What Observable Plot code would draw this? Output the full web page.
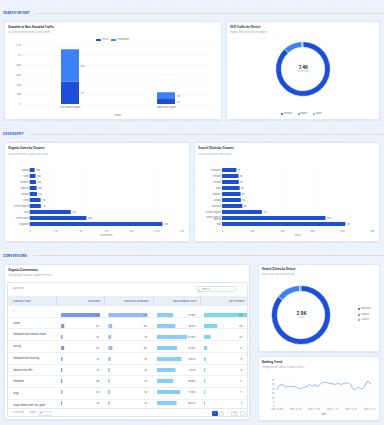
<!DOCTYPE html>
<html>
<head>
<meta charset="utf-8">
<script src="https://cdn.jsdelivr.net/npm/d3@7"></script>
<script src="https://cdn.jsdelivr.net/npm/@observablehq/plot@0.6"></script>
<style>
  html, body { margin: 0; padding: 0; }
  body {
    width: 384px; height: 425px; overflow: hidden; position: relative;
    background-color: #eef4fd;
    background-image: radial-gradient(circle, #dfe8f6 0.35px, transparent 0.5px);
    background-size: 2.6px 2.6px;
    font-family: Inter, "Noto Sans", sans-serif;
  }
  .card { position: absolute; background: #fff; border: 0.3px solid #e2e8f2; border-radius: 2.5px;
          box-sizing: border-box; box-shadow: 0 0.3px 1.2px rgba(40, 70, 130, 0.07); }
  .t { position: absolute; white-space: nowrap; line-height: 1; transform: translateY(-50%); }
  .tr { transform: translate(-100%, -50%); }
  .section { font-size: 2.8px; font-weight: 800; color: #2f55d4; letter-spacing: 0.3px; }
  .rule { position: absolute; height: 0.7px; background: #f1d9cc; }
  .title { font-size: 2.9px; font-weight: 700; color: #1e293b; }
  .sub { font-size: 2.05px; color: #9aa4b4; }
  .leg { font-size: 2.1px; color: #6b7280; }
  .dot { position: absolute; width: 2px; height: 2px; border-radius: 50%; transform: translate(-50%, -50%); }
  .th { font-size: 2.05px; font-weight: 600; color: #56627a; letter-spacing: 0.22px; }
  .td { font-size: 2.2px; color: #374151; }
  .small { font-size: 2.1px; color: #8b95a6; }
  .btn { position: absolute; box-sizing: border-box; border: 0.3px solid #dfe5ee; border-radius: 1px;
         font-size: 2.1px; color: #4b5563; display: flex; align-items: center; justify-content: center; background: #fff; }
</style>
</head>
<body>
<script>
// ---------- data ----------
const intentLabels = ["non-branded-organic", "brand-intent-organic"];
const intentClicks = [451, 102];
const intentImpressions = [663, 136];
const intentMetrics = ["Clicks", "Impressions"];
const intentColors = ["#1d4ed8", "#3b82f6"];
const intentTicks = [0, 200, 400, 600, 800, 1000, 1200];

const devices = ["desktop", "mobile", "tablet"];
const deviceColors = ["#1d4ed8", "#3b82f6", "#60a5fa"];
const deviceUsers = [6530, 810, 60];
const deviceClicks = [2490, 385, 25];

const userCountries = ["Canada", "Spain", "Germany", "Malaysia", "Vietnam", "China", "United Kingdom", "India", "United States", "Singapore"];
const userCounts = [490, 580, 620, 690, 720, 1080, 1100, 4060, 5600, 13100];
const userTicks = [0, 2500, 5000, 7500, 10000, 12500, 15000];

const clickCountries = ["Philippines", "Viet Nam", "Australia", "Spain", "Germany", "Canada", "Indonesia", "United Kingdom", "United States of America", "India"];
const clickCounts = [48, 55, 56, 59, 62, 63, 68, 133, 345, 411];
const clickTicks = [0, 100, 200, 300, 400, 500];

const pages = ["/", "/home", "/templates/hotel-website-expert-...", "/pricing", "/templates/hotel-booking", "/features/seo-offer", "/templates", "/blog", "/blog/ultimate-hotel-seo-guide"];
const sessions = [2140, 181, 82, 176, 78, 70, 68, 64, 58];
const engagedSessions = [1061, 103, 76, 109, 59, 40, 34, 46, 35];
const engagementRates = [49.58, 56.91, 92.68, 61.93, 75.64, 57.14, 50.00, 71.88, 60.34];
const keyEvents = [418, 126, 63, 31, 15, 13, 12, 11, 9];
const tableColumns = ["LANDING PAGE", "SESSIONS", "ENGAGED SESSIONS", "ENGAGEMENT RATE", "KEY EVENTS"];

const trendStart = "2025-10-06";
const trendPositions = [19.7, 22.5, 24.3, 25.1, 25.4, 24.3, 23.1, 22.4, 23.2, 23.5, 23.0, 22.8, 23.1, 23.2,
  22.6, 21.9, 21.6, 20.8, 20.5, 21.3, 21.8, 22.4, 22.9, 23.5, 24.6, 25.4, 24.1, 23.2, 24.6, 25.4, 23.5,
  23.9, 24.3, 25.8, 27.3, 27.5, 27.6, 27.7, 27.4, 27.0, 26.8, 26.5, 26.2, 25.9, 25.4, 26.1, 27.0, 26.6,
  25.4, 25.9, 26.2, 26.6, 27.0, 27.1, 27.0, 26.8, 24.5, 22.1, 19.4, 19.9, 20.5, 22.4, 21.8, 21.3, 20.6,
  20.5, 22.1, 25.6, 28.5, 28.7, 28.2, 26.2];
const trendTicks = ["2025-10-06", "2025-10-20", "2025-11-03", "2025-11-17", "2025-12-01", "2025-12-15"];
const positionTicks = [0, 5, 10, 15, 20, 25, 30];

// ---------- helpers ----------
const FONT = "Inter, 'Noto Sans', sans-serif";
function fmtK(v) {
  if (Math.abs(v) < 1000) return String(v);
  return (v / 1000).toFixed(1).replace(/\.0$/, "") + "K";
}
function add(tag, cls, css, text, parent = document.body) {
  const e = document.createElement(tag);
  if (cls) e.className = cls;
  Object.assign(e.style, css || {});
  if (text != null) e.textContent = text;
  parent.appendChild(e);
  return e;
}
function txt(x, y, str, cls, parent, right) {
  return add("div", "t " + cls + (right ? " tr" : ""), {left: x + "px", top: y + "px"}, str, parent);
}
function card(x0, y0, x1, y1) {
  return add("div", "card", {left: x0 + "px", top: y0 + "px", width: (x1 - x0) + "px", height: (y1 - y0) + "px"});
}
function mount(svg, x, y, parent = document.body) {
  svg.style.position = "absolute";
  svg.style.left = x + "px";
  svg.style.top = y + "px";
  parent.appendChild(svg);
  return svg;
}
const baseStyle = {background: "none", fontFamily: FONT, fontSize: "2.3px", color: "#6b7280", overflow: "visible"};

function section(label, y, lineFrom) {
  txt(3, y, label, "section");
  add("div", "rule", {left: lineFrom + "px", top: (y - 0.35) + "px", width: (384 - lineFrom) + "px"});
}

// Donut drawn as a custom Plot mark from d3.pie / d3.arc
function donutMark(values, colors, w, h, rOuter, rInner) {
  return () => {
    const arcs = d3.pie().sort(null).value(d => d)(values);
    const arc = d3.arc().innerRadius(rInner).outerRadius(rOuter);
    const g = d3.create("svg:g").attr("transform", `translate(${w / 2},${h / 2})`);
    g.selectAll("path").data(arcs).join("path")
      .attr("d", arc)
      .attr("fill", (d, i) => colors[i])
      .attr("stroke", "#fff")
      .attr("stroke-width", 0.5);
    return g.node();
  };
}
function donutPlot(values, w, h, rOuter, rInner, centerLabel) {
  const total = d3.sum(values);
  return Plot.plot({
    width: w, height: h, margin: 0,
    style: baseStyle,
    marks: [
      donutMark(values, deviceColors, w, h, rOuter, rInner),
      Plot.text([total], {frameAnchor: "middle", text: d => fmtK(d), dy: -1.5, fontSize: 4.3, fontWeight: 700, fill: "#1e293b"}),
      Plot.text([centerLabel], {frameAnchor: "middle", text: d => d, dy: 2.2, fontSize: 1.9, fill: "#9aa4b4"})
    ]
  });
}

// ---------- SEARCH INTENT ----------
section("SEARCH INTENT", 13.3, 35);

card(4, 21, 222, 120);
txt(8.3, 26.7, "Branded vs Non-Branded Traffic", "title");
txt(8.3, 32, "Clicks and impressions split by query intent", "sub");
// legend
intentMetrics.forEach((m, i) => {
  const x = [95.7, 110.7][i];
  add("div", null, {position: "absolute", left: x + "px", top: "38.7px", width: "5.3px", height: "2.6px", background: intentColors[i], borderRadius: "0.4px"});
  txt(x + 6.4, 40, m, "leg");
});

const intentRows = intentLabels.flatMap((q, i) => [
  {intent: q, metric: intentMetrics[0], value: intentClicks[i]},
  {intent: q, metric: intentMetrics[1], value: intentImpressions[i]}
]);
mount(Plot.plot({
  width: 218, height: 76, marginLeft: 18, marginRight: 9, marginTop: 3, marginBottom: 14,
  style: baseStyle,
  x: {domain: intentLabels, paddingInner: 0.817, paddingOuter: 0.4},
  y: {domain: [0, 1200]},
  color: {domain: intentMetrics, range: intentColors},
  marks: [
    Plot.gridY(intentTicks, {stroke: "#e8ecf2", strokeOpacity: 1, strokeWidth: 0.3}),
    Plot.barY(intentRows, Plot.stackY({x: "intent", y: "value", fill: "metric", rx: 0.5})),
    Plot.text(intentRows, Plot.stackY({x: "intent", y: "value", text: d => String(d.value), textAnchor: "start", dx: 10.2, fill: "#6b7280", fontSize: 2})),
    Plot.axisY({ticks: intentTicks, tickSize: 0, tickPadding: 1.5, tickFormat: fmtK, label: null}),
    Plot.axisX({tickSize: 0, tickPadding: 2.2, label: null, fontSize: 2}),
    Plot.text(["Query"], {frameAnchor: "bottom", text: d => d, dy: 11, fill: "#6b7280"})
  ]
}), 4, 42);

card(226, 21, 380, 120);
txt(230, 26.7, "SEO Traffic by Device", "title");
txt(230, 32, "Organic users split by device category", "sub");
mount(donutPlot(deviceUsers, 154, 68, 27.3, 21.8, "Active users"), 226, 35.2);
devices.forEach((d, i) => {
  const x = [282, 298.7, 314][i];
  add("div", "dot", {left: x + "px", top: "114.3px", background: deviceColors[i]});
  txt(x + 1.8, 114.3, d, "leg");
});

// ---------- GEOGRAPHY ----------
section("GEOGRAPHY", 134, 30);

function countryPlot(names, values, ticks, domainMax, ml, mr, axisTitle) {
  const rows = names.map((c, i) => ({country: c, value: values[i]}));
  return Plot.plot({
    width: 186, height: 80, marginLeft: ml, marginRight: mr, marginTop: 5.2, marginBottom: 11.7,
    style: baseStyle,
    x: {domain: [0, domainMax]},
    y: {domain: names, padding: 0.33},
    marks: [
      Plot.gridX(ticks, {stroke: "#edf0f5", strokeOpacity: 1, strokeWidth: 0.3}),
      Plot.barX(rows, {x: "value", y: "country", fill: "#1d4ed8", rx: 0.4}),
      Plot.text(rows, {x: "value", y: "country", text: d => fmtK(d.value), textAnchor: "start", dx: 0.9, fill: "#4b5563", fontSize: 2}),
      Plot.axisX({ticks, tickSize: 0, tickPadding: 1.4, tickFormat: fmtK, label: null, fontSize: 2}),
      Plot.axisY({tickSize: 0, tickPadding: 1.5, label: null, fontSize: 2,
        tickFormat: d => d === "United States of America" ? "United States of\nAmerica" : d}),
      Plot.text([axisTitle], {frameAnchor: "bottom", text: d => d, dy: 7.4, fill: "#6b7280", fontSize: 2.1})
    ]
  });
}

card(4, 142.3, 190, 241.7);
txt(8.3, 148.3, "Organic Users by Country", "title");
txt(8.3, 153.7, "Countries ranked by organic user volume", "sub");
mount(countryPlot(userCountries, userCounts, userTicks, 15000, 25.7, 8.3, "Active users"), 4, 160);

card(194, 142.3, 380, 241.7);
txt(198.3, 148.3, "Search Clicks by Country", "title");
txt(198.3, 153.7, "Countries ranked by search clicks", "sub");
mount(countryPlot(clickCountries, clickCounts, clickTicks, 500, 28, 8, "Clicks"), 194, 160);

// ---------- CONVERSIONS ----------
section("CONVERSIONS", 255.7, 33);

card(4, 264, 250, 420);
txt(8.3, 270, "Organic Conversions", "title");
txt(8.3, 275, "Landing pages ranked by organic key events", "sub");

const box = add("div", null, {position: "absolute", left: "7.3px", top: "281.7px", width: "241px", height: "135.6px",
  border: "0.3px solid #e3e8f1", borderRadius: "2px", overflow: "hidden", boxSizing: "border-box", background: "#fff"});
txt(4.4, 6.6, "468 results", "small", box);
const search = add("div", null, {position: "absolute", left: "187.7px", top: "3.3px", width: "40px", height: "6.5px",
  border: "0.3px solid #dde3ed", borderRadius: "1.5px", boxSizing: "border-box", background: "#fbfcfe"}, null, box);
search.innerHTML = '<svg width="3" height="3" viewBox="0 0 10 10" style="position:absolute;left:1.4px;top:1.6px"><circle cx="4" cy="4" r="3" fill="none" stroke="#8b95a6" stroke-width="1.2"/><line x1="6.2" y1="6.2" x2="9" y2="9" stroke="#8b95a6" stroke-width="1.2"/></svg>';
txt(5.3, 3.1, "Search...", "small", search);

// header row
add("div", null, {position: "absolute", left: 0, top: "13.3px", width: "100%", height: "10px", background: "#e9eff9"}, null, box);
[47.7, 96, 144.4, 192].forEach(x => add("div", null, {position: "absolute", left: x + "px", top: "13.3px", width: "0.3px", height: "10px", background: "#d7e0ee"}, null, box));
txt(4.7, 18.3, tableColumns[0], "th", box);
[92, 140.4, 188.4, 236].forEach((x, i) => txt(x, 18.3, tableColumns[i + 1], "th", box, true));

// body
const rowH = 11.75;
const body = add("div", null, {position: "absolute", left: 0, top: "23.3px", width: "100%", height: "102.3px", overflow: "hidden"}, null, box);
pages.forEach((p, i) => {
  const r = add("div", null, {position: "absolute", left: 0, top: (i * rowH) + "px", width: "100%", height: rowH + "px",
    borderBottom: "0.3px solid #edf0f5", boxSizing: "border-box"}, null, body);
  txt(4.7, rowH / 2, p, "td", r);
});

function cellBars(values, fmt, color, left, width, ml, mr, domainMax, dx) {
  const rows = pages.map((p, i) => ({page: p, value: values[i]}));
  return mount(Plot.plot({
    width, height: pages.length * rowH, marginLeft: ml, marginRight: mr, marginTop: 0, marginBottom: 0,
    style: baseStyle,
    x: {domain: [0, domainMax], axis: null},
    y: {domain: pages, axis: null, paddingInner: 0.66, paddingOuter: 0.33},
    marks: [
      Plot.barX(rows, {x: "value", y: "page", fill: color, rx: 0.5}),
      Plot.text(rows, {y: "page", text: d => fmt(d.value), frameAnchor: "right", textAnchor: "end", dx, fill: "#4b5563", fontSize: 2.1})
    ]
  }), left, 0, body);
}
cellBars(sessions, fmtK, "#8198ea", 47.7, 48.3, 5, 4.3, d3.max(sessions), -1.5);
cellBars(engagedSessions, fmtK, "#9db8f6", 96, 48.4, 4.4, 5, d3.max(engagedSessions), -1);
cellBars(engagementRates, v => v.toFixed(2) + "%", "#88cef4", 144.4, 47.6, 4, 11.2, 100, 5.9);
cellBars(keyEvents, String, "#7fd7ea", 192, 49, 4, 1, d3.max(keyEvents), -6.3);

// footer / pagination
add("div", null, {position: "absolute", left: 0, top: "125.6px", width: "100%", height: "0.3px", background: "#e6ebf3"}, null, box);
txt(4.4, 130.4, "1–10 of 468", "small", box);
txt(22, 130.4, "Rows", "small", box);
const sel = add("div", "btn", {left: "29.4px", top: "128px", width: "13.3px", height: "5px", justifyContent: "space-between", padding: "0 1.3px"}, null, box);
sel.innerHTML = "<span>10</span><span style='font-size:1.8px'>⌄</span>";
txt(198.4, 130.4, "‹", "small", box);
add("div", "btn", {left: "203.4px", top: "127.9px", width: "6px", height: "5px", background: "#1d4ed8", borderColor: "#1d4ed8", color: "#fff"}, "1", box);
add("div", "btn", {left: "211px", top: "127.9px", width: "5px", height: "5px"}, "2", box);
txt(218.6, 130.4, "…", "small", box);
add("div", "btn", {left: "222.7px", top: "127.9px", width: "7.3px", height: "5px"}, "47", box);
add("div", "btn", {left: "231.4px", top: "127.9px", width: "6.3px", height: "5px"}, "›", box);

card(257.7, 264, 380, 351.7);
txt(261.7, 269, "Search Clicks by Device", "title");
txt(261.7, 274.3, "Search clicks split by device type", "sub");
mount(donutPlot(deviceClicks, 90, 68, 29.5, 23.8, "Clicks"), 255.5, 280.5);
devices.forEach((d, i) => {
  const y = [309.3, 314.5, 319.8][i];
  add("div", "dot", {left: "359.3px", top: y + "px", background: deviceColors[i]});
  txt(361.3, y, d.toUpperCase(), "leg");
});

card(257.7, 356, 380, 420.7);
txt(261.7, 362.3, "Ranking Trend", "title");
txt(261.7, 367, "Average position tracked for search visibility", "sub");
const t0 = new Date(trendStart);
const trendRows = trendPositions.map((v, i) => ({date: d3.utcDay.offset(t0, i), position: v}));
mount(Plot.plot({
  width: 122.3, height: 45, marginLeft: 18.3, marginRight: 10, marginTop: 6, marginBottom: 12.7,
  style: baseStyle,
  x: {type: "utc"},
  y: {domain: [0, 30]},
  marks: [
    Plot.gridY(positionTicks, {stroke: "#e3e8f0", strokeOpacity: 1, strokeWidth: 0.3, strokeDasharray: "0.8,0.8"}),
    Plot.lineY(trendRows, {x: "date", y: "position", stroke: "#6384ea", strokeWidth: 0.6}),
    Plot.axisX({ticks: trendTicks.map(d => new Date(d)), tickFormat: d3.utcFormat("%Y-%m-%d"), tickSize: 0, tickPadding: 2, label: null, fontSize: 1.8}),
    Plot.axisY({ticks: positionTicks, tickSize: 0, tickPadding: 2.7, label: null, fontSize: 1.9}),
    Plot.text(["Date"], {frameAnchor: "bottom", text: d => d, dy: 8.6, fill: "#6b7280", fontSize: 2})
  ]
}), 257.7, 374);
</script>
</body>
</html>
